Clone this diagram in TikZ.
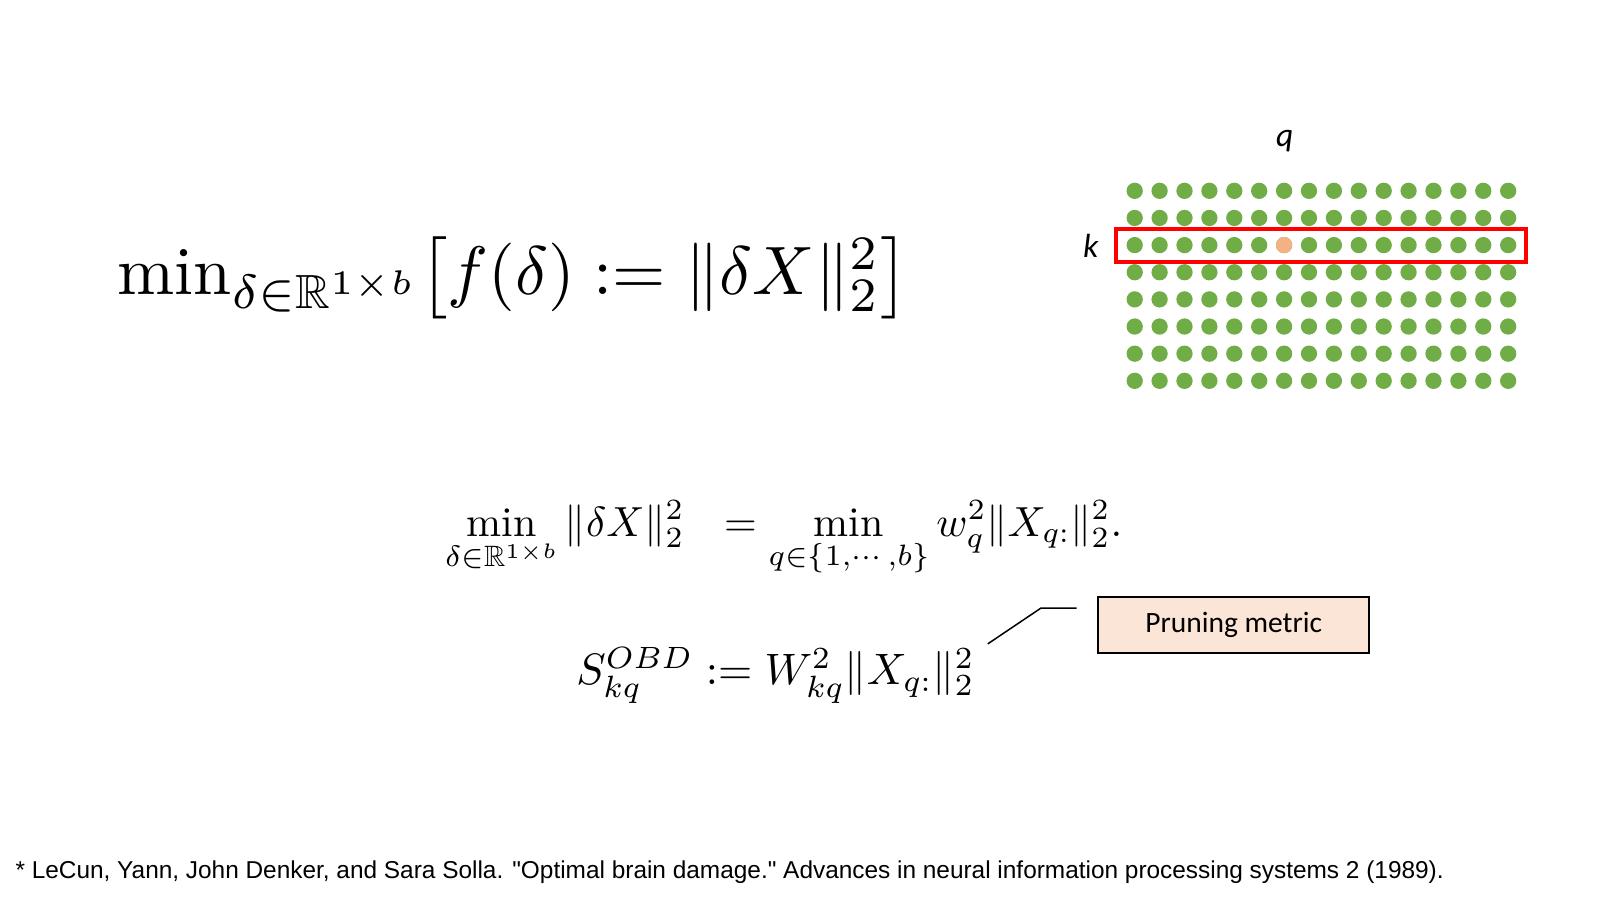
\documentclass[tikz,border=0pt]{standalone}
\usepackage{amsmath,amssymb,graphicx}
\usepackage{fontspec}
\newfontfamily\carl{Carlito}
\newfontfamily\libs{Liberation Sans}
\begin{document}
\begin{tikzpicture}[x=1.0204pt,y=-1.0204pt,
  lbl/.style={font=\carl\fontsize{33.5}{36}\selectfont\itshape},
  gdot/.style={circle,fill=dg,inner sep=0pt,minimum size=16.3pt}]
\definecolor{dg}{HTML}{70AD47}
\definecolor{pk}{HTML}{F4B183}
\definecolor{pm}{HTML}{FBE5D6}
\path[use as bounding box] (0,0) rectangle (1568,882);
\node[anchor=west,inner sep=0] (f1) at (115,272) {\resizebox{791pt}{!}{$\min_{\delta\in\mathbb{R}^{1\times b}}\bigl[f(\delta):=\|\delta X\|_2^2\bigr]$}};
\node[inner sep=0] (f2) at (768,528) {\resizebox{677pt}{!}{$\displaystyle\min_{\delta\in\mathbb{R}^{1\times b}}\|\delta X\|_2^2\ \ =\min_{q\in\{1,\cdots,b\}} w_q^2\|X_{q:}\|_2^2.$}};
\node[inner sep=0] (f3) at (760,662) {\resizebox{398pt}{!}{$S_{kq}^{OBD}:=W_{kq}^2\|X_{q:}\|_2^2$}};
\foreach \r in {0,...,7}{\foreach \c in {0,...,15}{
  \node[gdot] (d\r-\c) at (1112+24.4*\c,187+26.6*\r) {};}}
\node[gdot,fill=pk] (o) at (1258.4,240.2) {};
\node[draw=red,line width=4pt,minimum width=410pt,minimum height=33pt,inner sep=0] (rr) at (1294.5,240.5) {};
\node[lbl] (q) at (1259,138) {q};
\node[lbl] (k) at (1069,241) {k};
\node[draw=black,line width=1.5pt,fill=pm,minimum width=271pt,minimum height=56pt,font=\carl\fontsize{29.5}{30}\selectfont] (pm) at (1209,612.5) {Pruning metric};
\coordinate (c1) at (968,631);
\draw[line width=1.5pt] (c1) -- (1020,596) -- (1055,596);
\node[anchor=west,inner sep=0,font=\libs\fontsize{24.4}{26}\selectfont] (fn) at (15,855) {* LeCun, Yann, John Denker, and Sara Solla. "Optimal brain damage." Advances in neural information processing systems 2 (1989).};
\end{tikzpicture}
\end{document}
